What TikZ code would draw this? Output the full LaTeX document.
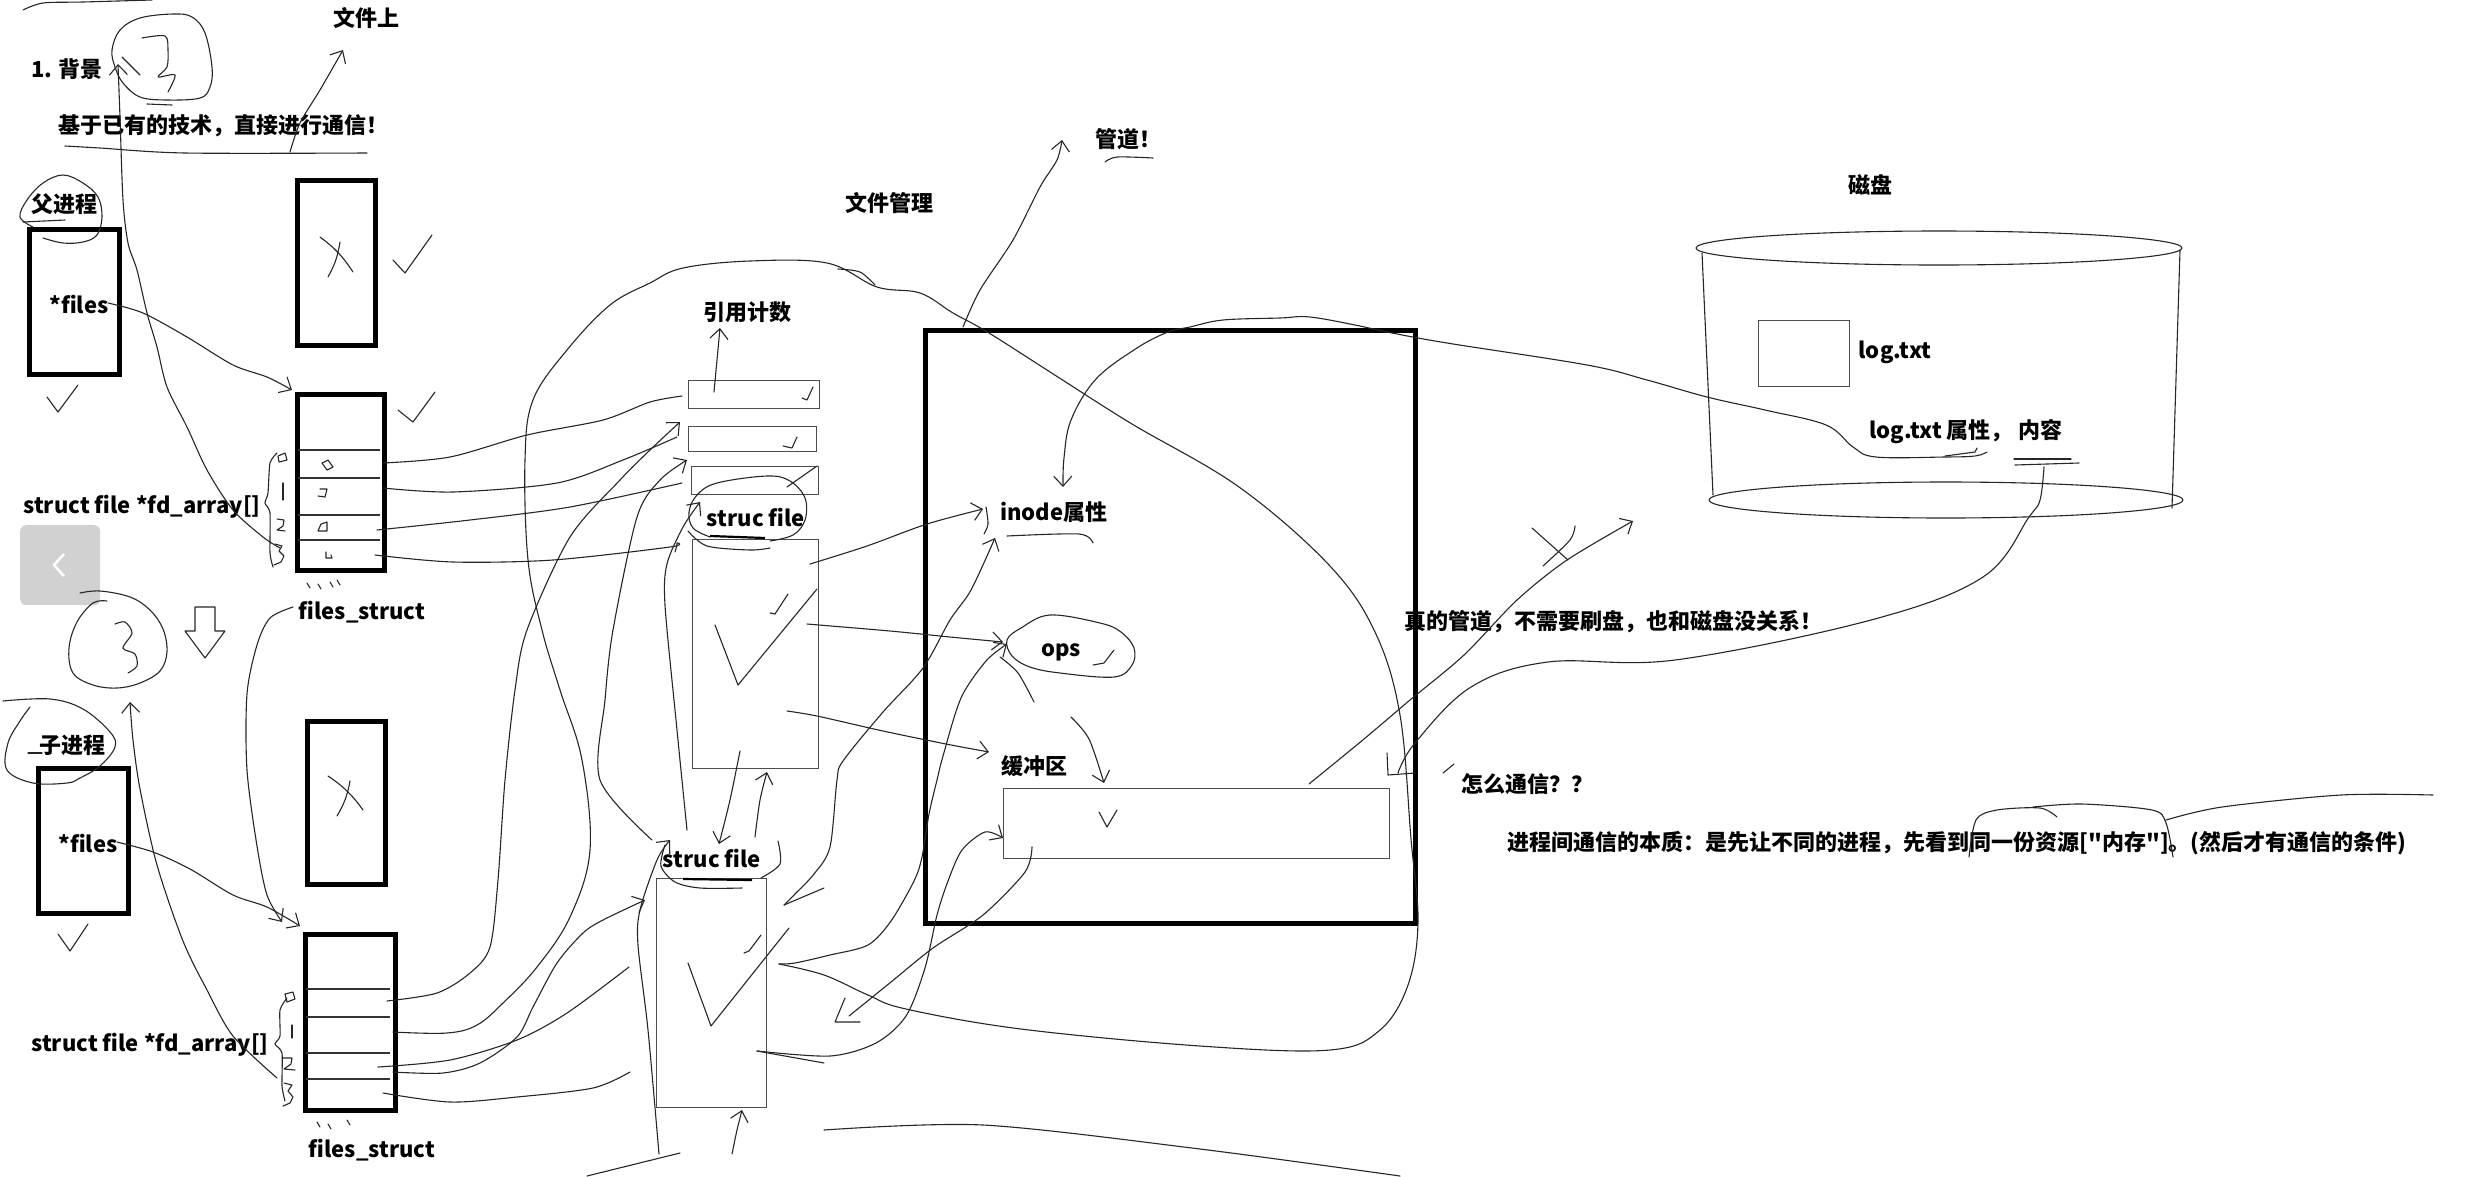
\documentclass[tikz,border=0pt]{standalone}
\usepackage{fontspec}
\setmainfont{Noto Sans CJK SC}
\usetikzlibrary{arrows.meta}
\newcommand{\dq}{\XeTeXglyph\XeTeXcharglyph"22\relax}

\begin{document}
\begin{tikzpicture}[x=1pt,y=-1pt,
  every node/.style={font=\fontsize{22}{26}\selectfont\bfseries,inner sep=0pt},
  thickbox/.style={draw,line width=4.5pt,anchor=north west},
  thinbox/.style={draw=black!70,line width=1.2pt,anchor=north west},
  pen/.style={line width=1.1pt,draw=black!85,line cap=round,line join=round},
  arr/.style={pen,-{Straight Barb[length=10pt,width=18pt]}},
  slotline/.style={line width=1.1pt,draw=black!80}]
\useasboundingbox (0,0) rectangle (2484,1176);

% labels
\node (bg) at (67,69) {1. 背景};
\node (wjs) at (366,18) {文件上};
\node (jiyu) at (223,126) {基于已有的技术，直接进行通信！};
\node (fu) at (64,204) {父进程};
\node (pfiles) at (79,305) {*files};
\node (fd1) at (142,507) {struct file *fd\_array[]};
\node (fs1lbl) at (362,612) {files\_struct};
\node (zi) at (72,745) {子进程};
\node (cfiles) at (88,843) {*files};
\node (fd2) at (150,1045) {struct file *fd\_array[]};
\node (fs2lbl) at (372,1150) {files\_struct};
\node (refcnt) at (747,312) {引用计数};
\node (sf1lbl) at (756,518) {struc file};
\node (sf2lbl) at (712,858) {struc file};
\node (wjgl) at (889,203) {文件管理};
\node (guandao) at (1128,139) {管道！};
\node (inode) at (1054,512) {inode属性};
\node (ops) at (1061,652) {ops};
\node (hcq) at (1034,766) {缓冲区};
\node (cipan) at (1870,185) {磁盘};
\node (logtxt) at (1895,352) {log.txt};
\node (logattr) at (1966,432) {log.txt 属性，\hspace{6pt}内容};
\node (zhende) at (1613,622) {真的管道，不需要刷盘，也和磁盘没关系！};
\node (zenme) at (1527,784) {怎么通信？？};
\node (benzhi) at (1957,843) {进程间通信的本质：是先让不同的进程，先看到同一份资源[\dq 内存\dq]。(然后才有通信的条件)};

% boxes
\node[thickbox,minimum width=90pt,minimum height=145pt] (pbox) at (27,227) {};
\node[thickbox,minimum width=78pt,minimum height=165pt] (xbox1) at (295,178) {};
\node[thickbox,minimum width=87pt,minimum height=176pt] (fs1) at (295,392) {};
\foreach \y in {450,478,515,540} \draw[slotline] (298,\y) -- (380,\y);
\node[thickbox,minimum width=90pt,minimum height=145pt] (cbox) at (36,766) {};
\node[thickbox,minimum width=78pt,minimum height=163pt] (xbox2) at (305,719) {};
\node[thickbox,minimum width=90pt,minimum height=176pt] (fs2) at (303,932) {};
\foreach \y in {989,1017,1053,1079} \draw[slotline] (306,\y) -- (390,\y);
\node[thinbox,minimum width=131pt,minimum height=28pt] (rc1) at (688,380) {};
\node[thinbox,minimum width=128pt,minimum height=25pt] (rc2) at (688,426) {};
\node[thinbox,minimum width=127pt,minimum height=28pt] (rc3) at (691,466) {};
\node[thinbox,minimum width=126pt,minimum height=229pt] (sf1) at (692,539) {};
\node[thinbox,minimum width=110pt,minimum height=229pt] (sf2) at (656,878) {};
\node[thickbox,minimum width=490pt,minimum height=593pt] (fm) at (923,328) {};
\node[thinbox,minimum width=386pt,minimum height=70pt] (buf) at (1003,788) {};
\node[thinbox,minimum width=91pt,minimum height=66pt] (logbox) at (1758,320) {};
\node[fill=black!18,rounded corners=6pt,minimum width=80pt,minimum height=80pt,anchor=north west] (navbtn) at (20,525) {};
\draw[white,line width=2.5pt] (64,554) -- (54,565) -- (64,576);

% disk
\draw[pen] (1939,248) ellipse (243 and 17);
\draw[pen] (1946,500) ellipse (237 and 18);
\draw[pen] (1702,253) -- (1713,495);
\draw[pen] (2180,250) -- (2172,508);

% circles and marks, left column
\draw[pen] plot[smooth cycle,tension=0.6] coordinates {(115,67) (112,50) (120,30) (140,18) (173,14) (192,17) (205,33) (212,67) (210,87) (200,98) (167,100) (140,97) (123,83)};
\draw[pen] (147,104) -- (172,105);
\draw[pen] plot[smooth,tension=0.5] coordinates {(142,38) (165,36) (168,50) (167,67) (158,77) (175,75) (168,92)};
\draw[pen] (122,57) -- (140,75);
\draw[pen] plot[smooth,tension=0.6] coordinates {(80,593) (100,591) (130,597) (150,610) (163,629) (167,652) (160,671) (140,683) (117,688) (93,685) (73,673) (69,648) (77,622) (93,603) (107,601)};
\draw[pen] plot[smooth,tension=0.5] coordinates {(115,624) (125,622) (132,633) (123,648) (135,654) (137,666) (128,673)};
\draw[pen] (195,607) -- (215,607) -- (215,631) -- (225,631) -- (205,658) -- (185,631) -- (195,631) -- cycle;
\draw[pen] plot[smooth,tension=0.6] coordinates {(33,227) (20,217) (27,200) (43,183) (63,175) (83,183) (98,197) (102,217) (97,235) (83,242) (63,243) (43,238)};
\draw[pen] (23,222) -- (65,220);
\draw[pen] plot[smooth,tension=0.6] coordinates {(3,701) (50,699) (83,709) (110,732) (115,747) (100,766) (80,778) (67,783) (33,783) (7,770) (8,743) (20,721) (30,707)};
\draw[pen] (28,753) -- (42,753);
\draw[pen] plot[smooth] coordinates {(23,10) (43,3) (83,2) (152,0)};
\draw[pen] plot[smooth] coordinates {(65,146) (100,148) (185,153) (367,153)};
\draw[arr] plot[smooth] coordinates {(290,152) (300,123) (320,90) (343,50)};
% checks and crosses
\draw[pen] (47,397) -- (58,412) -- (78,385);
\draw[pen] (58,934) -- (70,951) -- (88,924);
\draw[pen] (393,260) -- (405,273) -- (432,235);
\draw[pen] (398,410) -- (413,422) -- (435,392);
\draw[pen] (320,237) to[bend left=10] (353,272);
\draw[pen] (340,242) to[bend left=10] (328,277);
\draw[pen] (328,776) to[bend left=10] (363,810);
\draw[pen] (350,781) to[bend left=10] (337,816);
% braces and digits
\draw[pen] plot[smooth,tension=0.4] coordinates {(277,453) (270,463) (268,493) (265,503) (270,513) (270,553) (273,567)};
\draw[pen] (278,456) -- (285,453) -- (287,460) -- (279,462) -- cycle;
\draw[pen] (283,483) -- (283,500);
\draw[pen] (277,519) -- (284,520) -- (283,526) -- (277,530) -- (285,531);
\draw[pen] (275,544) -- (282,546) -- (279,551) -- (284,556) -- (281,562) -- (274,565);
\draw[pen] plot[smooth,tension=0.4] coordinates {(287,998) (280,1010) (280,1036) (275,1044) (282,1053) (282,1086) (285,1101)};
\draw[pen] (285,994) -- (293,992) -- (295,999) -- (287,1002) -- cycle;
\draw[pen] (292,1025) -- (292,1038);
\draw[pen] (283,1058) -- (292,1058) -- (291,1064) -- (284,1069) -- (295,1070);
\draw[pen] (284,1083) -- (292,1085) -- (288,1091) -- (293,1097) -- (290,1103) -- (283,1106);
\draw[pen] (322,463) -- (328,460) -- (333,467) -- (327,470) -- cycle;
\draw[pen] (320,489) -- (327,489) -- (325,497) -- (318,496);
\draw[pen] (318,531) -- (321,524) -- (327,522) -- (327,531) -- cycle;
\draw[pen] (326,552) -- (326,558) -- (332,558) -- (331,555);
\foreach \x/\y in {307/583,318/584,330/582,337/580,317/1122,328/1124,347/1120}
  \draw[pen] (\x,\y) -- ++(3,5);

% pointers from processes
\draw[arr] plot[smooth] coordinates {(108,303) (143,313) (187,337) (233,365) (267,377) (292,390)};
\draw[arr] plot[smooth] coordinates {(117,842) (153,852) (190,869) (233,895) (267,907) (300,926)};
\draw[arr] plot[smooth] coordinates {(280,548) (263,537) (233,510) (207,470) (187,427) (167,387) (157,347) (147,313) (137,270) (128,243) (123,200) (120,117) (118,64)};
\draw[arr] plot[smooth] coordinates {(277,1078) (233,1036) (207,990) (183,941) (157,865) (140,789) (133,740) (130,702)};
\draw[arr] plot[smooth] coordinates {(293,607) (270,618) (257,645) (247,694) (247,770) (257,846) (267,895) (282,922)};

% files_struct -> struct file
\draw[pen] plot[smooth] coordinates {(383,463) (450,457) (527,435) (603,420) (650,402) (682,396)};
\draw[pen] plot[smooth] coordinates {(383,488) (453,492) (557,483) (623,460) (677,437)};
\draw[pen] plot[smooth] coordinates {(377,530) (470,520) (570,507) (682,483)};
\draw[pen] plot[smooth] coordinates {(375,555) (453,562) (553,560) (670,547) (677,543) (675,552)};
\draw[arr] plot[smooth] coordinates {(387,1001) (437,993) (470,973) (490,947) (498,880) (505,780) (515,690) (527,630) (570,537) (620,480) (650,450) (680,422)};
\draw[arr] plot[smooth] coordinates {(652,840) (600,780) (605,700) (613,630) (637,517) (660,480) (687,460)};
\draw[arr] plot[smooth] coordinates {(393,1072) (443,1073) (480,1063) (517,1037) (533,1007) (557,963) (583,933) (603,920) (645,900)};
\draw[pen] plot[smooth] coordinates {(378,1067) (450,1060) (517,1040) (567,1013) (629,967)};
\draw[pen] plot[smooth] coordinates {(383,1093) (450,1102) (517,1097) (593,1088) (630,1072)};
% big loop
\draw[pen] plot[smooth,tension=0.6] coordinates {(393,1032) (447,1033) (477,1025) (503,1003) (537,967) (570,917) (590,850) (582,760) (560,690) (542,630) (528,560) (525,460) (533,400) (567,350) (610,305) (650,283) (683,268) (750,261) (827,263) (877,287) (920,293) (953,313) (989,333) (1061,379) (1132,424) (1239,487) (1329,565) (1375,632) (1400,715) (1411,839) (1418,922) (1408,985) (1380,1030) (1330,1050) (1200,1046) (1021,1029) (906,1009) (868,995) (824,975) (779,964)};
\draw[pen] plot[smooth] coordinates {(838,269) (860,272) (875,285)};

% struct file details
\draw[pen] plot[smooth,tension=0.6] coordinates {(710,537) (693,528) (689,512) (697,495) (717,483) (767,476) (790,481) (805,498) (805,520) (793,535) (770,541)};
\draw[pen] plot[smooth] coordinates {(688,531) (707,546) (750,550) (770,548)};
\draw[line width=2.2pt] (710,536) -- (765,538);
\draw[pen] plot[smooth] coordinates {(665,845) (661,866) (675,882) (700,888) (742,888)};
\draw[pen] plot[smooth] coordinates {(778,841) (780,864) (761,878)};
\draw[line width=2.2pt] (683,879) -- (752,880);
\draw[pen] (715,625) -- (738,685) -- (817,589);
\draw[pen] (770,613) -- (775,614) -- (788,594);
\draw[pen] (688,963) -- (711,1026) -- (789,928);
\draw[pen] (744,953) -- (749,951) -- (761,935);
\draw[pen] (802,398) -- (807,400) -- (813,387);
\draw[pen] (783,446) -- (792,448) -- (797,437);
\draw[pen] (787,487) -- (817,466);
\draw[arr] plot[smooth] coordinates {(714,392) (717,360) (720,328)};
\draw[arr] plot[smooth] coordinates {(687,830) (676,720) (665,605) (667,564) (683,527) (700,502)};
\draw[arr] plot[smooth] coordinates {(659,1154) (648,1030) (638,945) (640,910) (657,860) (670,840)};
\draw[arr] plot[smooth] coordinates {(740,751) (730,800) (719,844)};
\draw[arr] plot[smooth] coordinates {(755,837) (760,800) (767,772)};
\draw[arr] plot[smooth] coordinates {(732,1154) (737,1130) (742,1110)};
\draw[pen] (587,1176) -- (680,1153);
\draw[pen] plot[smooth] coordinates {(824,1130) (983,1125) (1200,1149) (1400,1176)};

% into file management
\draw[arr] plot[smooth] coordinates {(810,564) (867,546) (927,524) (983,509)};
\draw[arr] plot[smooth] coordinates {(807,624) (890,631) (950,637) (1003,642)};
\draw[arr] plot[smooth] coordinates {(787,711) (817,716) (883,731) (946,744) (989,752)};
\draw[arr] plot[smooth] coordinates {(784,905) (795,894) (814,874) (830,847) (837,780) (843,761) (883,712) (923,668) (950,620) (971,590) (995,538)};
\draw[pen] (784,905) -- (824,888);
\draw[arr] plot[smooth] coordinates {(779,964) (795,963) (830,955) (868,945) (891,921) (914,881) (922,857) (929,814) (937,780) (943,756) (961,698) (986,661) (1007,644)};
\draw[arr] plot[smooth] coordinates {(757,1051) (830,1056) (876,1043) (906,1016) (925,968) (937,915) (948,881) (962,850) (985,832) (1003,838)};
\draw[pen] (757,1051) -- (824,1063);
\draw[pen] plot[smooth] coordinates {(1032,847) (1025,872) (983,915) (933,948) (891,982) (849,1016)};
\draw[pen] (845,998) -- (835,1022) -- (860,1022);
\draw[arr] plot[smooth] coordinates {(963,327) (980,290) (1013,240) (1040,187) (1057,160) (1062,140)};
\draw[pen] plot[smooth] coordinates {(1105,162) (1117,157) (1153,158)};
\draw[pen] plot[smooth] coordinates {(986,507) (988,524) (984,534)};
\draw[pen] plot[smooth] coordinates {(1007,536) (1079,534) (1093,543)};
\draw[pen] plot[smooth cycle,tension=0.6] coordinates {(1021,628) (1007,640) (1012,656) (1030,667) (1060,673) (1114,677) (1132,665) (1134,648) (1121,632) (1100,623) (1050,615)};
\draw[pen] (1093,665) -- (1104,663) -- (1114,650);
\draw[pen] plot[smooth] coordinates {(1000,657) (1018,673) (1034,702)};
\draw[arr] plot[smooth] coordinates {(1071,717) (1089,739) (1104,783)};
\draw[pen] (1099,812) -- (1107,827) -- (1117,810);
% disk to inode
\draw[arr] plot[smooth,tension=0.6] coordinates {(1987,452) (1975,456) (1945,457) (1876,457) (1853,447) (1826,425) (1765,410) (1707,397) (1647,380) (1587,365) (1447,343) (1387,332) (1360,326) (1310,317) (1280,318) (1223,320) (1190,327) (1168,332) (1137,348) (1096,379) (1071,420) (1064,458) (1063,487)};
\draw[pen] (1945,456) -- (1975,452) -- (1977,448);
\draw[pen] (2014,459) -- (2071,459);
\draw[pen] (2015,465) -- (2079,463);
% buffer to disk, crossed out
\draw[arr] plot[smooth] coordinates {(1309,784) (1364,739) (1410,700) (1464,655) (1517,600) (1567,560) (1633,521)};
\draw[pen] (1532,528) -- (1568,560);
\draw[pen] plot[smooth] coordinates {(1575,526) (1570,540) (1543,566)};
% disk content down
\draw[pen] plot[smooth,tension=0.6] coordinates {(2044,467) (2040,500) (2029,517) (1983,577) (1871,620) (1675,660) (1548,662) (1471,687) (1415,743) (1398,773)};
\draw[pen] (1387,753) -- (1388,775) -- (1415,773);
\draw[pen] (1443,773) -- (1454,764);
% brace over the text
\draw[pen] plot[smooth] coordinates {(1969,857) (1976,820) (1997,810) (2040,808) (2057,817)};
\draw[pen] plot[smooth] coordinates {(2033,807) (2082,804) (2152,810) (2166,823) (2173,857)};
\draw[pen] plot[smooth] coordinates {(2166,820) (2222,807) (2341,795) (2433,795)};
\end{tikzpicture}
\end{document}
